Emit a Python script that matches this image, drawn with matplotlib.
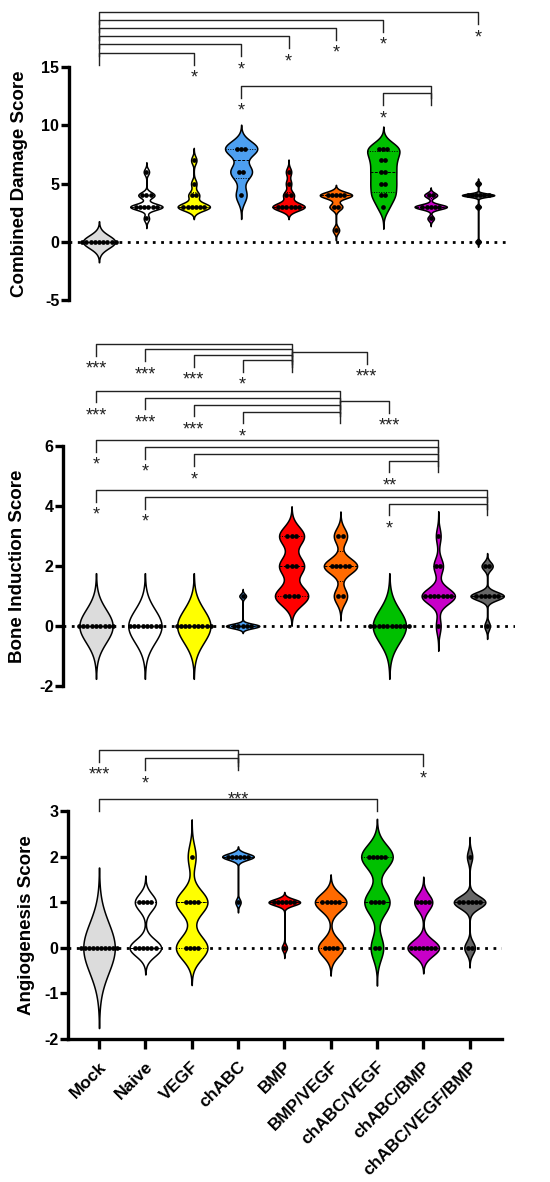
import numpy as np
import matplotlib.pyplot as plt
from matplotlib.transforms import ScaledTranslation

plt.rcParams["font.family"] = ["Liberation Sans", "DejaVu Sans"]
plt.rcParams["axes.unicode_minus"] = False

groups = ["Mock", "Naive", "VEGF", "chABC", "BMP", "BMP/VEGF",
          "chABC/VEGF", "chABC/BMP", "chABC/VEGF/BMP"]
fills = ["#dcdcdc", "#ffffff", "#ffff00", "#4d9ff0", "#ff0000",
         "#ff6a00", "#00c000", "#c800c8", "#666666"]

# scores per animal, one list per group (same order as groups)
damage_scores = [
    [0] * 9,
    [2, 3, 3, 3, 3, 3, 3, 4, 4, 4, 6],
    [3, 3, 3, 3, 3, 3, 4, 4, 5, 7],
    [4, 6, 6, 8, 8, 8],
    [3, 3, 3, 3, 3, 3, 4, 4, 5, 6],
    [1, 3, 3, 4, 4, 4, 4, 4],
    [3, 4, 4, 5, 5, 6, 6, 7, 7, 8, 8, 8],
    [2, 3, 3, 3, 3, 3, 4, 4],
    [0, 3, 4, 4, 4, 4, 4, 4, 5],
]
bone_scores = [
    [0] * 9,
    [0] * 8,
    [0] * 9,
    [0, 0, 0, 0, 0, 1],
    [1, 1, 1, 1, 2, 2, 2, 3, 3, 3],
    [1, 1, 2, 2, 2, 2, 2, 3, 3],
    [0] * 10,
    [0, 1, 1, 1, 1, 1, 1, 1, 2, 2, 3],
    [0, 1, 1, 1, 1, 1, 1, 2, 2],
]
angio_scores = [
    [0] * 10,
    [0, 0, 0, 0, 0, 0, 1, 1, 1, 1],
    [0, 0, 0, 0, 1, 1, 1, 1, 2],
    [1, 2, 2, 2, 2, 2, 2],
    [0, 1, 1, 1, 1, 1, 1],
    [0, 0, 0, 0, 1, 1, 1, 1, 1],
    [0, 0, 1, 1, 1, 1, 2, 2, 2, 2, 2],
    [0, 0, 0, 0, 0, 0, 0, 1, 1, 1, 1],
    [0, 0, 1, 1, 1, 1, 1, 1, 2],
]

# significance comparisons (bracket end, other group, stars)
damage_tests = [
    ("Mock", "VEGF", "*"), ("Mock", "chABC", "*"), ("Mock", "BMP", "*"),
    ("Mock", "BMP/VEGF", "*"), ("Mock", "chABC/VEGF", "*"),
    ("Mock", "chABC/VEGF/BMP", "*"),
    ("chABC/BMP", "chABC", "*"), ("chABC/BMP", "chABC/VEGF", "*"),
]
bone_tests = [
    ("BMP", "Mock", "***"), ("BMP", "Naive", "***"), ("BMP", "VEGF", "***"),
    ("BMP", "chABC", "*"), ("BMP", "chABC/VEGF", "***"),
    ("BMP/VEGF", "Mock", "***"), ("BMP/VEGF", "Naive", "***"),
    ("BMP/VEGF", "VEGF", "***"), ("BMP/VEGF", "chABC", "*"),
    ("BMP/VEGF", "chABC/VEGF", "***"),
    ("chABC/BMP", "Mock", "*"), ("chABC/BMP", "Naive", "*"),
    ("chABC/BMP", "VEGF", "*"), ("chABC/BMP", "chABC/VEGF", "**"),
    ("chABC/VEGF/BMP", "Mock", "*"), ("chABC/VEGF/BMP", "Naive", "*"),
    ("chABC/VEGF/BMP", "chABC/VEGF", "*"),
]
angio_tests = [
    ("chABC", "Mock", "***"), ("chABC", "Naive", "*"),
    ("chABC", "chABC/BMP", "*"), ("Mock", "chABC/VEGF", "***"),
]


def bandwidth(v):
    sd = v.std(ddof=1)
    q1, q3 = np.percentile(v, [25, 75], method="weibull")
    spread = min(sd, (q3 - q1) / 1.34)
    if spread > 0:
        return 0.56 * spread * len(v) ** -0.2
    return 0.07 if sd > 0 else 0.55


def violin(ax, x, vals, color, half=0.34, gap=0.088):
    v = np.asarray(vals, float)
    h = bandwidth(v)
    ys = np.linspace(v.min() - 3.2 * h, v.max() + 3.2 * h, 800)
    dens = np.exp(-0.5 * ((ys[:, None] - v[None, :]) / h) ** 2).sum(axis=1)
    w = dens / dens.max() * half
    ax.fill_betweenx(ys, x - w, x + w, facecolor=color, edgecolor="black",
                     lw=1.1, zorder=2)
    q1, med, q3 = np.percentile(v, [25, 50, 75], method="weibull")
    for q, ls in ((q1, (0, (1, 1.5))), (q3, (0, (1, 1.5))), (med, (0, (3, 1.5)))):
        hw = np.interp(q, ys, w)
        ax.plot([x - hw, x + hw], [q, q], color="black", lw=0.7, ls=ls, zorder=3)
    for val, c in zip(*np.unique(v, return_counts=True)):
        xs = x + (np.arange(c) - (c - 1) / 2) * gap
        ax.plot(xs, [val] * c, "o", color="black", ms=3.4, mew=0, zorder=4)


def setup(ax, scores, ylim, yticks, ylabel, labx):
    ax.axhline(0, color="black", lw=2, ls=(0, (1, 2)), zorder=1)
    for i, vals in enumerate(scores):
        violin(ax, i, vals, fills[i])
    ax.set_ylim(*ylim)
    ax.set_yticks(yticks)
    for s in ("top", "right", "bottom"):
        ax.spines[s].set_visible(False)
    ax.spines["left"].set_linewidth(2.4)
    ax.tick_params(axis="y", width=2.4, length=6, labelsize=11.5, pad=1)
    for t in ax.get_yticklabels():
        t.set_fontweight("bold")
    ax.set_xticks([])
    ax.set_ylabel(ylabel, fontsize=13.5, fontweight="bold")
    ax.yaxis.label.set_va("center")
    ax.yaxis.set_label_coords(labx, 0.5)


def brackets(ax, tests, levels, drop, shift=None, above=()):
    shift = shift or {}
    for k, ((a, b, lab), y) in enumerate(zip(tests, levels)):
        xa = groups.index(a)
        xb = groups.index(b) + shift.get(k, 0)
        ax.plot([xa, xa, xb, xb], [y - drop, y, y, y - drop], color="#222222",
                lw=1.0, clip_on=False, zorder=5)
        if k in above:
            pos, off = ((xa + xb) / 2, y), -4.0
        else:
            pos, off = (xb, y - drop), -13.0
        ax.annotate(lab, pos, xytext=(0, off), textcoords="offset points",
                    ha="center", va="baseline", fontsize=13,
                    annotation_clip=False, color="#222222")


fig = plt.figure(figsize=(5.5, 11.82), dpi=100)

ax1 = fig.add_axes([69 / 550, 1 - 300 / 1182, 438 / 550, 233 / 1182])
ax1.set_xlim(-0.633, 8.61)
setup(ax1, damage_scores, (-5, 15), [-5, 0, 5, 10, 15],
      "Combined Damage Score", -0.114)
brackets(ax1, damage_tests,
         [16.23, 16.95, 17.66, 18.37, 19.06, 19.7, 13.4, 12.77], 1.03)

ax2 = fig.add_axes([63 / 550, 1 - 686 / 1182, 452 / 550, 240 / 1182])
ax2.set_xlim(-0.675, 8.57)
setup(ax2, bone_scores, (-2, 6), [-2, 0, 2, 4, 6],
      "Bone Induction Score", -0.1)
brackets(ax2, bone_tests,
         [9.4, 9.22, 9.04, 8.86, 9.13,
          7.84, 7.61, 7.38, 7.14, 7.5,
          6.2, 5.97, 5.72, 5.51,
          4.53, 4.3, 4.08], 0.39, shift={4: -0.46})

ax3 = fig.add_axes([68 / 550, 1 - 1039 / 1182, 434 / 550, 228 / 1182])
ax3.set_xlim(-0.67, 8.7)
setup(ax3, angio_scores, (-2, 3), [-2, -1, 0, 1, 2, 3],
      "Angiogenesis Score", -0.095)
brackets(ax3, angio_tests, [4.34, 4.16, 4.25, 3.26], 0.26, above=(3,))
ax3.spines["bottom"].set_visible(True)
ax3.spines["bottom"].set_linewidth(2.4)
ax3.set_xticks(range(len(groups)))
ax3.set_xticklabels(groups, rotation=45, ha="right", va="center",
                    rotation_mode="anchor", fontsize=12.5, fontweight="bold")
ax3.tick_params(axis="x", width=2.4, length=7, pad=6)
nudge = ScaledTranslation(5 / 100, -7 / 100, fig.dpi_scale_trans)
for t in ax3.get_xticklabels():
    t.set_transform(t.get_transform() + nudge)

fig.savefig("out.png", dpi=100)
